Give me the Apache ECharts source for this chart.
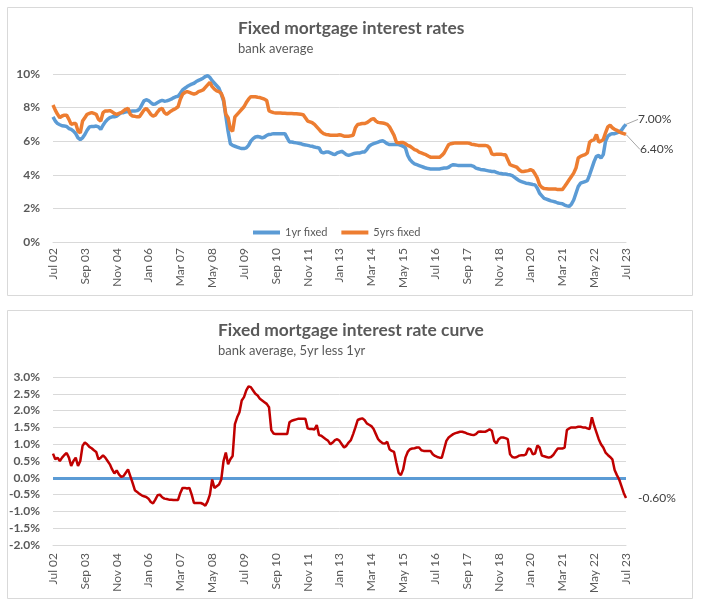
<!DOCTYPE html>
<html><head><meta charset="utf-8">
<script src="https://cdn.jsdelivr.net/npm/echarts@6/dist/echarts.min.js"></script>
<style>html,body{margin:0;padding:0;background:#fff}#c{width:703px;height:607px}</style>
</head><body><div id="c"></div>
<script>
// Monthly categories, Jul 2002 .. Jul 2023
const MONTH_NAMES = ['Jan','Feb','Mar','Apr','May','Jun','Jul','Aug','Sep','Oct','Nov','Dec'];
const months = [];
for (let i = 0; i < 253; i++) {
  const m = (6 + i) % 12, y = 2002 + Math.floor((6 + i) / 12);
  months.push(MONTH_NAMES[m] + ' ' + String(y % 100).padStart(2, '0'));
}

// 1yr fixed rate, bank average (%)
const oneYear = [
7.45,7.2,7.05,6.98,6.92,6.9,6.88,6.75,6.7,6.6,6.45,6.2,
6.1,6.2,6.4,6.65,6.85,6.88,6.88,6.9,6.85,6.7,6.95,7.15,
7.3,7.4,7.45,7.45,7.5,7.6,7.7,7.7,7.75,7.75,7.78,7.8,
7.8,7.82,7.9,8.15,8.4,8.47,8.42,8.3,8.2,8.22,8.3,8.38,
8.43,8.38,8.4,8.45,8.5,8.58,8.65,8.67,8.85,9.05,9.15,9.25,
9.33,9.4,9.45,9.55,9.62,9.68,9.75,9.85,9.9,9.8,9.6,9.45,
9.3,9.15,8.8,8.4,7.5,6.6,5.85,5.75,5.7,5.65,5.6,5.56,
5.56,5.6,5.75,6.0,6.15,6.25,6.28,6.25,6.2,6.25,6.35,6.4,
6.42,6.45,6.45,6.45,6.45,6.45,6.45,6.2,5.95,5.95,5.92,5.9,
5.88,5.85,5.8,5.78,5.75,5.72,5.7,5.65,5.62,5.6,5.35,5.3,
5.35,5.36,5.3,5.24,5.2,5.3,5.35,5.4,5.3,5.2,5.16,5.2,
5.25,5.28,5.3,5.3,5.35,5.36,5.5,5.7,5.8,5.85,5.9,5.95,
6.0,6.03,5.95,5.85,5.8,5.8,5.8,5.8,5.8,5.75,5.7,5.6,
5.15,4.9,4.75,4.65,4.6,4.55,4.5,4.45,4.4,4.37,4.35,4.35,
4.35,4.35,4.35,4.38,4.4,4.4,4.45,4.55,4.6,4.58,4.56,4.56,
4.56,4.56,4.56,4.56,4.55,4.5,4.4,4.36,4.32,4.3,4.28,4.25,
4.22,4.2,4.2,4.15,4.1,4.08,4.05,4.05,4.02,4.0,3.95,3.85,
3.75,3.65,3.6,3.55,3.5,3.48,3.45,3.42,3.4,3.2,2.9,2.75,
2.6,2.55,2.5,2.45,2.42,2.38,2.32,2.3,2.28,2.2,2.15,2.12,
2.25,2.5,2.9,3.3,3.5,3.55,3.6,3.65,4.0,4.4,4.8,5.1,
5.15,5.0,5.2,6.0,6.3,6.4,6.45,6.45,6.5,6.55,6.65,6.85,
7.0];

// 5yrs fixed rate, bank average (%)
const fiveYear = [
8.15,7.85,7.6,7.4,7.5,7.55,7.55,7.3,7.0,7.05,7.05,6.6,
6.5,7.2,7.4,7.6,7.65,7.7,7.65,7.6,7.3,7.2,7.7,7.8,
7.8,7.82,7.75,7.65,7.6,7.65,7.7,7.8,7.9,7.95,7.6,7.5,
7.48,7.45,7.45,7.65,7.85,7.95,7.8,7.6,7.5,7.55,7.75,7.9,
7.95,7.7,7.6,7.7,7.8,7.88,7.95,8.05,8.5,8.8,8.9,8.95,
8.9,8.85,8.8,8.85,8.95,9.0,9.05,9.2,9.35,9.5,9.25,9.1,
9.0,8.95,8.85,8.5,7.6,7.4,6.7,6.6,7.45,7.6,7.75,7.9,
8.05,8.3,8.5,8.65,8.65,8.65,8.62,8.6,8.55,8.5,8.42,7.8,
7.75,7.7,7.68,7.68,7.68,7.66,7.66,7.65,7.65,7.65,7.64,7.64,
7.62,7.6,7.58,7.4,7.2,7.15,7.1,7.0,6.85,6.7,6.55,6.45,
6.4,6.38,6.35,6.35,6.35,6.35,6.38,6.35,6.3,6.3,6.3,6.32,
6.35,6.8,7.0,7.02,7.05,7.05,7.1,7.2,7.3,7.35,7.2,7.12,
7.1,7.08,7.05,7.0,6.85,6.6,6.35,5.95,5.9,5.92,5.92,5.85,
5.75,5.7,5.6,5.5,5.45,5.35,5.3,5.25,5.2,5.12,5.05,5.04,
5.04,5.04,5.04,5.15,5.3,5.55,5.8,5.85,5.88,5.9,5.9,5.9,
5.9,5.9,5.9,5.88,5.82,5.8,5.78,5.75,5.75,5.75,5.75,5.72,
5.6,5.25,5.2,5.22,5.22,5.22,5.2,5.2,4.9,4.6,4.55,4.5,
4.45,4.3,4.2,4.2,4.22,4.25,4.3,4.25,4.05,3.8,3.4,3.25,
3.18,3.17,3.15,3.15,3.15,3.15,3.12,3.12,3.12,3.3,3.5,3.7,
3.9,4.1,4.4,5.0,5.1,5.15,5.2,5.3,5.95,6.05,6.1,6.4,
5.95,6.0,6.1,6.5,6.85,6.95,6.8,6.7,6.65,6.55,6.5,6.45,
6.4];

// Curve: 5yr less 1yr (percentage points)
const curve = [
0.72,0.55,0.6,0.5,0.6,0.68,0.74,0.6,0.35,0.5,0.6,0.35,
0.5,0.95,1.05,1.0,0.92,0.88,0.82,0.77,0.55,0.6,0.67,0.6,
0.5,0.4,0.25,0.13,0.22,0.1,0.03,0.05,0.15,0.25,0.05,-0.15,
-0.37,-0.42,-0.48,-0.52,-0.55,-0.57,-0.62,-0.72,-0.76,-0.65,-0.52,-0.5,
-0.58,-0.62,-0.63,-0.65,-0.65,-0.66,-0.66,-0.66,-0.45,-0.3,-0.3,-0.32,
-0.3,-0.5,-0.75,-0.75,-0.75,-0.75,-0.78,-0.83,-0.7,-0.5,-0.05,-0.3,
-0.25,-0.2,-0.05,0.5,0.75,0.4,0.55,0.65,1.6,1.8,1.95,2.3,
2.4,2.6,2.72,2.7,2.6,2.5,2.45,2.35,2.3,2.25,2.2,2.1,
1.42,1.32,1.3,1.3,1.3,1.3,1.3,1.3,1.65,1.7,1.72,1.74,
1.76,1.76,1.76,1.76,1.47,1.45,1.45,1.44,1.57,1.27,1.25,1.2,
1.15,1.1,1.0,1.05,1.12,1.15,1.1,1.0,0.9,0.95,1.05,1.12,
1.3,1.5,1.72,1.75,1.77,1.72,1.62,1.58,1.54,1.45,1.3,1.15,
1.08,1.03,1.02,1.07,0.85,0.8,0.77,0.45,0.15,0.08,0.25,0.6,
0.77,0.85,0.87,0.88,0.9,0.9,0.82,0.8,0.8,0.8,0.8,0.7,
0.65,0.62,0.6,0.6,0.85,1.1,1.2,1.25,1.3,1.33,1.35,1.37,
1.37,1.35,1.32,1.3,1.28,1.27,1.3,1.37,1.38,1.37,1.37,1.4,
1.44,1.4,1.1,1.02,1.15,1.2,1.2,1.18,1.15,0.7,0.62,0.6,
0.62,0.66,0.67,0.67,0.7,0.87,0.85,0.7,0.72,0.96,0.9,0.66,
0.64,0.62,0.6,0.62,0.68,0.78,0.87,0.87,0.87,0.9,1.42,1.47,
1.5,1.5,1.5,1.52,1.52,1.5,1.5,1.47,1.45,1.8,1.55,1.35,
1.15,1.0,0.9,0.75,0.68,0.62,0.55,0.23,0.08,-0.05,-0.25,-0.45,
-0.6];

const FONT = 'Lato, "Open Sans", sans-serif';
const TXT = '#595959';
const GRIDC = '#d9d9d9';

function lastLabeled(arr, labelCfg) {
  return arr.map((v, i) => i === arr.length - 1 ? { value: v, label: labelCfg } : v);
}

const chart = echarts.init(document.getElementById('c'), null, { renderer: 'canvas' });

const xAxisBase = (gridIndex, margin) => ({
  type: 'category', gridIndex, data: months, boundaryGap: false,
  axisLine: { show: true, onZero: false, lineStyle: { color: GRIDC, width: 1 } },
  axisTick: { show: false },
  axisLabel: { interval: 13, rotate: 90, color: TXT, fontSize: 12, fontFamily: FONT, margin },
  splitLine: { show: false }
});

const endLbl = (extra) => Object.assign({ show: true, position: 'right', distance: 0,
  formatter: p => p.value.toFixed(2) + '%', color: '#404040', fontSize: 12, fontFamily: FONT }, extra || {});

chart.setOption({
  backgroundColor: '#fff',
  animation: false,
  textStyle: { fontFamily: FONT },
  graphic: [
    { type: 'rect', shape: { x: 7.5, y: 7.5, width: 685, height: 288 }, style: { fill: 'none', stroke: GRIDC, lineWidth: 1 }, silent: true },
    { type: 'rect', shape: { x: 7.5, y: 310.5, width: 685, height: 288 }, style: { fill: 'none', stroke: GRIDC, lineWidth: 1 }, silent: true }
  ],
  title: [
    { text: 'Fixed mortgage interest rates', left: 238, top: 20, padding: 0, textStyle: { color: TXT, fontSize: 17.4, fontWeight: 'bold', fontFamily: FONT } },
    { text: 'bank average', left: 238, top: 42, padding: 0, textStyle: { color: TXT, fontSize: 13, fontWeight: 'normal', fontFamily: FONT } },
    { text: 'Fixed mortgage interest rate curve', left: 218, top: 322, padding: 0, textStyle: { color: TXT, fontSize: 17.4, fontWeight: 'bold', fontFamily: FONT } },
    { text: 'bank average, 5yr less 1yr', left: 218, top: 344, padding: 0, textStyle: { color: TXT, fontSize: 13, fontWeight: 'normal', fontFamily: FONT } }
  ],
  legend: {
    data: ['1yr fixed', '5yrs fixed'], left: 248, top: 222,
    icon: 'rect', itemWidth: 27, itemHeight: 4, itemGap: 14,
    textStyle: { color: TXT, fontSize: 11, fontFamily: FONT }
  },
  grid: [
    { left: 53, right: 77, top: 74, bottom: 365 },
    { left: 53, right: 77, top: 377, bottom: 62 }
  ],
  xAxis: [ xAxisBase(0, 6), xAxisBase(1, 8) ],
  yAxis: [
    { type: 'value', gridIndex: 0, min: 0, max: 10, interval: 2,
      axisLine: { show: false }, axisTick: { show: false },
      axisLabel: { formatter: '{value}%', color: TXT, fontSize: 12, fontWeight: 'bold', fontFamily: FONT, margin: 13 },
      splitLine: { lineStyle: { color: GRIDC, width: 1 } } },
    { type: 'value', gridIndex: 1, min: -2, max: 3, interval: 0.5,
      axisLine: { show: false }, axisTick: { show: false },
      axisLabel: { formatter: v => v.toFixed(1) + '%', color: TXT, fontSize: 12, fontWeight: 'bold', fontFamily: FONT, margin: 13 },
      splitLine: { lineStyle: { color: GRIDC, width: 1 } } }
  ],
  series: [
    { name: '1yr fixed', type: 'line', xAxisIndex: 0, yAxisIndex: 0,
      symbol: 'circle', symbolSize: 0, showSymbol: true, showAllSymbol: true,
      data: lastLabeled(oneYear, endLbl()),
      lineStyle: { color: '#5b9bd5', width: 3.5 }, itemStyle: { color: '#5b9bd5' },
      labelLayout: { dx: 12, dy: -5 }, labelLine: { show: true, lineStyle: { color: '#a6a6a6', width: 1 } }, z: 3 },
    { name: '5yrs fixed', type: 'line', xAxisIndex: 0, yAxisIndex: 0,
      symbol: 'circle', symbolSize: 0, showSymbol: true, showAllSymbol: true,
      data: lastLabeled(fiveYear, endLbl()),
      lineStyle: { color: '#ed7d31', width: 3.5 }, itemStyle: { color: '#ed7d31' },
      labelLayout: { dx: 14, dy: 15 }, labelLine: { show: true, lineStyle: { color: '#a6a6a6', width: 1 } }, z: 4 },
    { name: 'curve', type: 'line', xAxisIndex: 1, yAxisIndex: 1,
      symbol: 'circle', symbolSize: 0, showSymbol: true, showAllSymbol: true,
      data: lastLabeled(curve, endLbl({ distance: 12 })),
      lineStyle: { color: '#c00000', width: 2.5 }, itemStyle: { color: '#c00000' }, z: 4,
      markLine: { silent: true, symbol: 'none', label: { show: false },
        lineStyle: { color: '#5b9bd5', width: 3, type: 'solid' }, data: [{ yAxis: 0 }], z: 2 } }
  ]
});
</script></body></html>
